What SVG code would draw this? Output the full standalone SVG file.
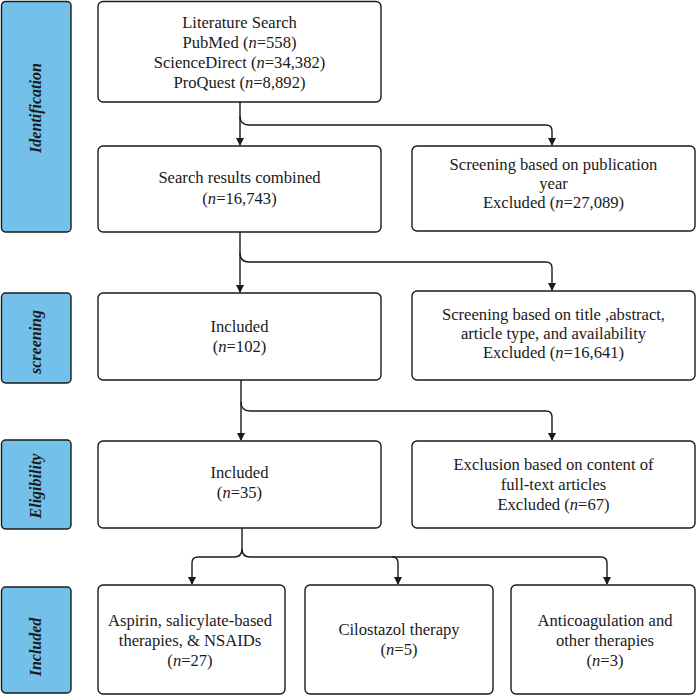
<svg xmlns="http://www.w3.org/2000/svg" width="697" height="696" viewBox="0 0 697 696">
<defs>
<marker id="ah" markerWidth="8" markerHeight="10" refX="7" refY="4" orient="auto" markerUnits="userSpaceOnUse" viewBox="0 0 8 8">
<path d="M0,0 L8,4 L0,8 Z" fill="#1a1a1a"/>
</marker>
<style>
.box{fill:#fff;stroke:#1a1a1a;stroke-width:1.4}
.side{fill:#73c1ea;stroke:#1a1a1a;stroke-width:1.4}
.t{font-family:"Liberation Serif","Times New Roman",serif;font-size:16.6px;fill:#1a1a1a;text-anchor:middle}
.s{font-family:"Liberation Serif","Times New Roman",serif;font-size:16px;font-style:italic;font-weight:bold;fill:#1a1a1a;text-anchor:middle}
.c{fill:none;stroke:#1a1a1a;stroke-width:1.4}
.i{font-style:italic}
</style>
</defs>

<g id="side-identification">
<rect class="side" x="1.5" y="1.5" width="69.5" height="230.5" rx="4"/>
<text class="s" transform="translate(41,108) rotate(-90)">Identification</text>
</g>
<g id="side-screening">
<rect class="side" x="1.5" y="293" width="69.5" height="90" rx="4"/>
<text class="s" transform="translate(41,342) rotate(-90)">screening</text>
</g>
<g id="side-eligibility">
<rect class="side" x="1.5" y="440" width="69.5" height="89" rx="4"/>
<text class="s" transform="translate(41,486) rotate(-90)">Eligibility</text>
</g>
<g id="side-included">
<rect class="side" x="1.5" y="587" width="69.5" height="106" rx="4"/>
<text class="s" transform="translate(41,647) rotate(-90)">Included</text>
</g>

<g id="literature-search">
<rect class="box" x="98" y="1.5" width="283" height="100.5" rx="5"/>
<text class="t" x="239.5" y="28">Literature Search</text>
<text class="t" x="239.5" y="48">PubMed (<tspan class="i">n</tspan>=558)</text>
<text class="t" x="239.5" y="68">ScienceDirect (<tspan class="i">n</tspan>=34,382)</text>
<text class="t" x="239.5" y="88">ProQuest (<tspan class="i">n</tspan>=8,892)</text>
</g>

<g id="search-combined">
<rect class="box" x="98" y="146" width="283" height="86" rx="5"/>
<text class="t" x="239.5" y="183">Search results combined</text>
<text class="t" x="239.5" y="204">(<tspan class="i">n</tspan>=16,743)</text>
</g>

<g id="excluded-year">
<rect class="box" x="412" y="146" width="283" height="85" rx="5"/>
<text class="t" x="553.5" y="169.5">Screening based on publication</text>
<text class="t" x="553.5" y="188.5">year</text>
<text class="t" x="553.5" y="207.5">Excluded (<tspan class="i">n</tspan>=27,089)</text>
</g>

<g id="included-102">
<rect class="box" x="98" y="293" width="283" height="87" rx="5"/>
<text class="t" x="239.5" y="332">Included</text>
<text class="t" x="239.5" y="352">(<tspan class="i">n</tspan>=102)</text>
</g>

<g id="excluded-title">
<rect class="box" x="412" y="291" width="283" height="89" rx="5"/>
<text class="t" x="553.5" y="320">Screening based on title ,abstract,</text>
<text class="t" x="553.5" y="339">article type, and availability</text>
<text class="t" x="553.5" y="358">Excluded (<tspan class="i">n</tspan>=16,641)</text>
</g>

<g id="included-35">
<rect class="box" x="98" y="441" width="283" height="87" rx="5"/>
<text class="t" x="239.5" y="478">Included</text>
<text class="t" x="239.5" y="498">(<tspan class="i">n</tspan>=35)</text>
</g>

<g id="excluded-fulltext">
<rect class="box" x="412" y="441" width="283" height="87" rx="5"/>
<text class="t" x="553.5" y="470">Exclusion based on content of</text>
<text class="t" x="553.5" y="490">full-text articles</text>
<text class="t" x="553.5" y="510">Excluded (<tspan class="i">n</tspan>=67)</text>
</g>

<g id="aspirin">
<rect class="box" x="98" y="585" width="187" height="109" rx="5"/>
<text class="t" x="190" y="626">Aspirin, salicylate-based</text>
<text class="t" x="190" y="646">therapies, &amp; NSAIDs</text>
<text class="t" x="190" y="666">(<tspan class="i">n</tspan>=27)</text>
</g>

<g id="cilostazol">
<rect class="box" x="305" y="585" width="188" height="109" rx="5"/>
<text class="t" x="399" y="635">Cilostazol therapy</text>
<text class="t" x="399" y="655">(<tspan class="i">n</tspan>=5)</text>
</g>

<g id="anticoagulation">
<rect class="box" x="511" y="585" width="184" height="109" rx="5"/>
<text class="t" x="605" y="626">Anticoagulation and</text>
<text class="t" x="605" y="646">other therapies</text>
<text class="t" x="605" y="666">(<tspan class="i">n</tspan>=3)</text>
</g>

<g id="connectors">
<path class="c" d="M240,102 V145" marker-end="url(#ah)"/>
<path class="c" d="M240,116 Q240,125 249,125 H546 Q552,125 552,131 V145" marker-end="url(#ah)"/>
<path class="c" d="M240,232 V292" marker-end="url(#ah)"/>
<path class="c" d="M240,253 Q240,262 249,262 H546 Q552,262 552,268 V290" marker-end="url(#ah)"/>
<path class="c" d="M241,380 V440" marker-end="url(#ah)"/>
<path class="c" d="M241,402 Q241,411 250,411 H546 Q552,411 552,417 V440" marker-end="url(#ah)"/>
<path class="c" d="M242,528 V549 Q242,557 234,557 H198 Q192,557 192,563 V584" marker-end="url(#ah)"/>
<path class="c" d="M242,549 Q242,557 250,557 H601 Q607,557 607,563 V584" marker-end="url(#ah)"/>
<path class="c" d="M392,557 Q398,557 398,563 V584" marker-end="url(#ah)"/>
</g>
</svg>
